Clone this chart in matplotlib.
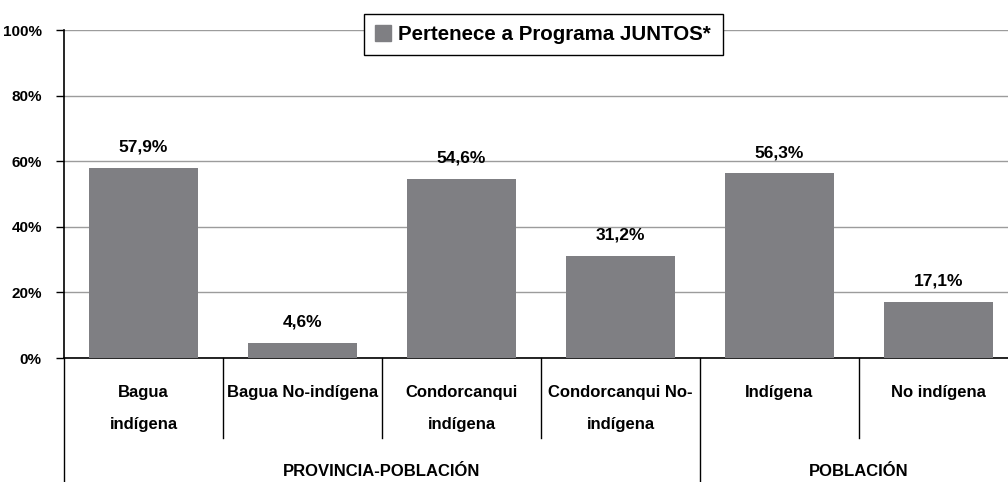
import matplotlib.pyplot as plt
from matplotlib.patches import Patch

categories = ['Bagua\nindígena', 'Bagua No-indígena', 'Condorcanqui\nindígena',
              'Condorcanqui No-\nindígena', 'Indígena', 'No indígena']
values = [57.9, 4.6, 54.6, 31.2, 56.3, 17.1]
value_labels = ['57,9%', '4,6%', '54,6%', '31,2%', '56,3%', '17,1%']
groups = ['PROVINCIA-POBLACIÓN', 'POBLACIÓN']
group_sizes = [4, 2]
yticks = [0, 20, 40, 60, 80, 100]
legend_label = 'Pertenece a Programa JUNTOS*'

plt.rcParams['font.family'] = ['Liberation Sans', 'DejaVu Sans']
plt.rcParams['font.weight'] = 'bold'

bar_color = '#7f7f83'
W, H = 1008, 482
fig = plt.figure(figsize=(W / 100, H / 100), dpi=100)
ax = fig.add_axes([64 / W, (H - 358) / H, (1018 - 64) / W, 328 / H])
axh = 328.0

x = list(range(len(values)))
ax.bar(x, values, width=0.68, color=bar_color, zorder=3)
ax.set_xlim(-0.5, len(values) - 0.5)
ax.set_ylim(0, 100)
ax.set_yticks(yticks)
ax.set_yticklabels(['%d%%' % t for t in yticks], fontsize=11, fontweight='bold')
ax.set_xticks([])
ax.yaxis.grid(True, color='#9c9c9c', linewidth=1, zorder=0)
ax.tick_params(axis='y', length=6, width=1, direction='out', pad=10)
for s in ['top', 'right']:
    ax.spines[s].set_visible(False)
ax.spines['left'].set_linewidth(1.2)
ax.spines['bottom'].set_linewidth(1.2)

for xi, v, lab in zip(x, values, value_labels):
    ax.annotate(lab, (xi, v), xytext=(0, 15), textcoords='offset points',
                ha='center', va='center', fontsize=12.5, fontweight='bold')

tr = ax.get_xaxis_transform()
for xi, c in zip(x, categories):
    for k, line in enumerate(c.split('\n')):
        ax.text(xi, -(35 + 31 * k) / axh, line, transform=tr, ha='center', va='center',
                fontsize=12, fontweight='bold')

# separators between categories
bounds = [i - 0.5 for i in range(len(values) + 1)]
group_edges = [-0.5]
for g in group_sizes:
    group_edges.append(group_edges[-1] + g)
for b in bounds:
    low = -0.378 if b in group_edges else -80 / axh
    ax.plot([b, b], [0, low], transform=tr, color='black', linewidth=1, clip_on=False)

start = -0.5
for g, n in zip(groups, group_sizes):
    ax.text(start + n / 2, -114 / axh, g, transform=tr, ha='center', va='center',
            fontsize=12, fontweight='bold')
    start += n

leg = ax.legend(handles=[Patch(color=bar_color, label=legend_label)], loc='center',
                bbox_to_anchor=(543 / W, (H - 34.5) / H), bbox_transform=fig.transFigure,
                fancybox=False, edgecolor='black', framealpha=1,
                prop={'size': 14.8, 'weight': 'bold'}, handlelength=0.8, handleheight=0.8,
                handletextpad=0.35, borderpad=0.55, borderaxespad=0)
leg.get_frame().set_linewidth(1)
leg.set_zorder(5)

fig.savefig('out.png', dpi=100)
